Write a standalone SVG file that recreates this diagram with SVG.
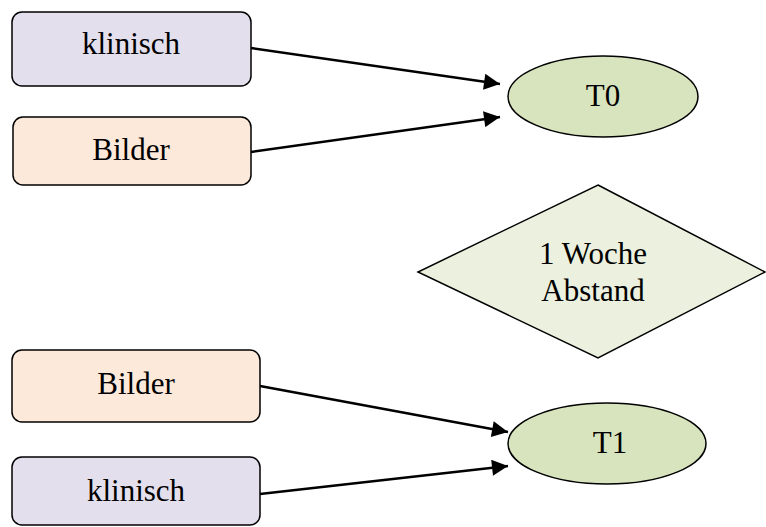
<svg xmlns="http://www.w3.org/2000/svg" width="766" height="527" viewBox="0 0 766 527">
<style>
.box{stroke:#000;stroke-width:1.5}
.purple{fill:#e4dfec}
.peach{fill:#fde9d9}
.ell{fill:#d7e4bd;stroke:#000;stroke-width:1.5}
.dia{fill:#ebf1de;stroke:#000;stroke-width:1.5}
.t{font-family:"Liberation Serif","Times New Roman",serif;font-size:31px;fill:#000;text-anchor:middle}
.c{stroke:#000;stroke-width:2.5;fill:none;marker-end:url(#ah)}
</style>
<defs>
<marker id="ah" viewBox="0 0 10 10" refX="10" refY="5" markerWidth="7" markerHeight="6.4" markerUnits="strokeWidth" orient="auto">
<path d="M0,0 L10,5 L0,10 z" fill="#000"/>
</marker>
</defs>
<rect width="766" height="527" fill="#fff"/>
<g id="connectors">
<line class="c" x1="251" y1="48" x2="500" y2="84"/>
<line class="c" x1="251" y1="152" x2="500" y2="117"/>
<line class="c" x1="260" y1="386" x2="508" y2="432"/>
<line class="c" x1="260" y1="494" x2="508" y2="466"/>
</g>
<g id="klinisch1">
<rect class="box purple" x="12" y="12" width="239" height="74" rx="10"/>
<text class="t" x="131" y="54">klinisch</text>
</g>
<g id="bilder1">
<rect class="box peach" x="13" y="117" width="238" height="68" rx="10"/>
<text class="t" x="131" y="160">Bilder</text>
</g>
<g id="T0">
<ellipse class="ell" cx="603" cy="96.5" rx="95" ry="40.5"/>
<text class="t" x="603" y="106">T0</text>
</g>
<g id="abstand">
<polygon class="dia" points="598,185 765,272 598,358 418,272"/>
<text class="t" x="593" y="264">1 Woche</text>
<text class="t" x="593" y="301">Abstand</text>
</g>
<g id="bilder2">
<rect class="box peach" x="12" y="350" width="248" height="72" rx="10"/>
<text class="t" x="136" y="394">Bilder</text>
</g>
<g id="klinisch2">
<rect class="box purple" x="12" y="457" width="248" height="68" rx="10"/>
<text class="t" x="136" y="501">klinisch</text>
</g>
<g id="T1">
<ellipse class="ell" cx="607" cy="443.5" rx="99" ry="40.5"/>
<text class="t" x="610" y="453">T1</text>
</g>
</svg>
